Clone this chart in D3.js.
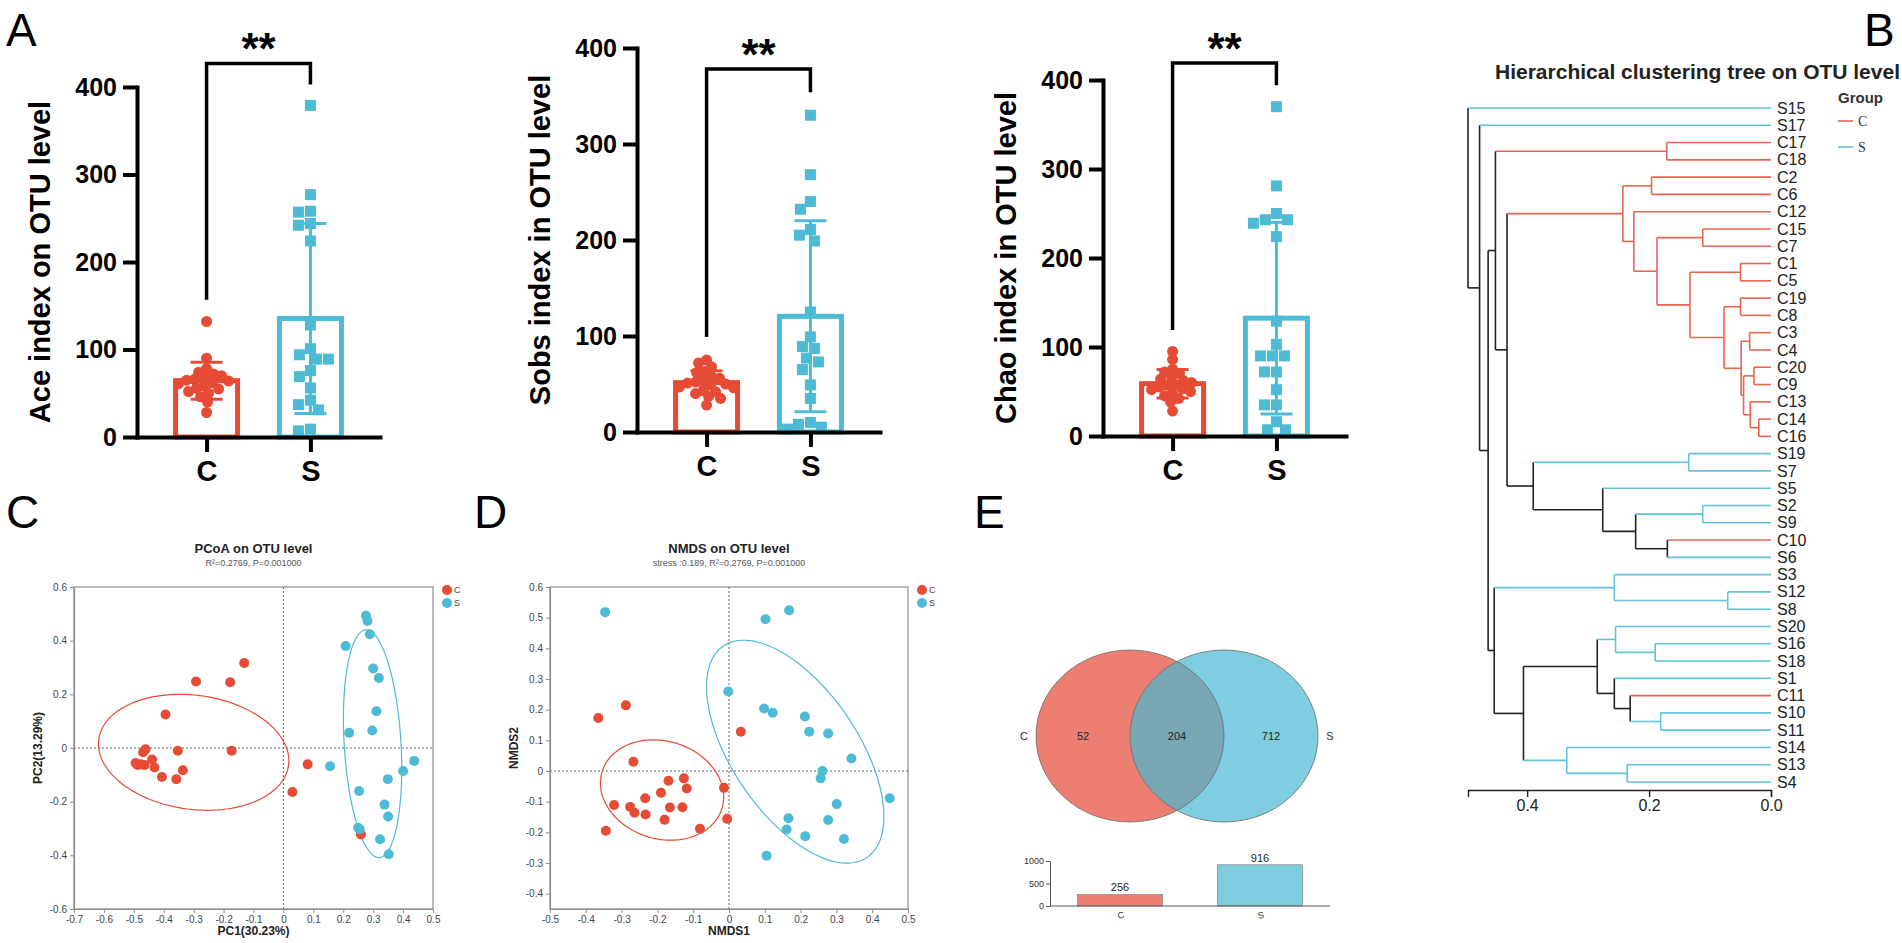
<!DOCTYPE html>
<html>
<head>
<meta charset="utf-8">
<script src="https://cdn.jsdelivr.net/npm/d3@7/dist/d3.min.js"></script>
<style>
  body { margin: 0; background: #fff; }
  svg { display: block; font-family: "Liberation Sans", Arial, Helvetica, sans-serif; }
</style>
</head>
<body>
<svg id="fig" width="1902" height="943"></svg>
<script>
// ---------- values ----------
const groups = ["C", "S"];

// panel A: alpha diversity, one value per sample
const alphaTitles = ["Ace index on OTU level", "Sobs index in OTU level", "Chao index in OTU level"];
const alphaTicks = [0, 100, 200, 300, 400];
const aceC = [132, 90, 78, 74, 72, 70, 68, 66, 65, 64, 62, 61, 58, 56, 55, 52, 50, 46, 40, 28];
const aceS = [379, 277, 258, 257, 244, 242, 224, 128, 101, 94, 89, 89, 76, 69, 56, 42, 37, 31, 9, 7];
const sobsC = [75, 72, 68, 63, 62, 58, 56, 54, 52, 51, 50, 49, 47, 46, 44, 42, 40, 37, 35, 28];
const sobsS = [330, 268, 240, 232, 211, 205, 199, 125, 99, 89, 87, 77, 73, 65, 49, 35, 10, 8, 5, 3];
const chaoC = [95, 86, 75, 72, 70, 66, 64, 62, 60, 58, 57, 55, 53, 52, 50, 48, 45, 42, 38, 28];
const chaoS = [370, 281, 250, 243, 243, 239, 224, 129, 103, 90, 90, 90, 72, 72, 52, 35, 35, 16, 7, 7];
// significance bracket: foot over C, top, foot over S (index units)
const brackets = [[157, 427, 403], [99, 378, 354], [119, 419, 394]];
const sigLabel = "**";

// panel C: PCoA scores
const pcoaC = [[-0.494, -0.056], [-0.487, -0.063], [-0.476, -0.061], [-0.464, -0.063], [-0.469, -0.016],
  [-0.461, -0.005], [-0.439, -0.043], [-0.431, -0.073], [-0.406, -0.108], [-0.394, 0.125], [-0.353, -0.010],
  [-0.358, -0.116], [-0.336, -0.083], [-0.292, 0.248], [-0.178, 0.245], [-0.173, -0.010], [-0.131, 0.317],
  [0.081, -0.061], [0.030, -0.164], [0.259, -0.322]];
const pcoaS = [[0.276, 0.493], [0.281, 0.473], [0.289, 0.424], [0.208, 0.380], [0.300, 0.296], [0.319, 0.261],
  [0.311, 0.137], [0.220, 0.057], [0.297, 0.065], [0.156, -0.068], [0.437, -0.048], [0.400, -0.086],
  [0.349, -0.116], [0.253, -0.160], [0.338, -0.211], [0.350, -0.255], [0.250, -0.297], [0.255, -0.303],
  [0.323, -0.340], [0.352, -0.396]];
// confidence ellipses: centre x, centre y, semi-axis a, semi-axis b, angle (deg)
const pcoaEllipseC = [-0.300, -0.016, 0.321, 0.212, -10];
const pcoaEllipseS = [0.298, 0.016, 0.425, 0.095, 93];
const pcoaXTicks = [-0.7, -0.6, -0.5, -0.4, -0.3, -0.2, -0.1, 0, 0.1, 0.2, 0.3, 0.4, 0.5];
const pcoaYTicks = [-0.6, -0.4, -0.2, 0, 0.2, 0.4, 0.6];

// panel D: NMDS scores
const nmdsC = [[-0.365, 0.173], [-0.288, 0.214], [-0.267, 0.030], [0.033, 0.128], [-0.169, -0.032],
  [-0.126, -0.024], [-0.118, -0.057], [-0.014, -0.055], [-0.234, -0.089], [-0.190, -0.071], [-0.321, -0.111],
  [-0.276, -0.117], [-0.264, -0.136], [-0.233, -0.142], [-0.165, -0.119], [-0.130, -0.118], [-0.180, -0.159],
  [-0.005, -0.156], [-0.081, -0.188], [-0.344, -0.195]];
const nmdsS = [[-0.346, 0.518], [0.102, 0.495], [-0.002, 0.259], [0.098, 0.204], [0.105, -0.276], [0.168, 0.524],
  [0.122, 0.190], [0.212, 0.178], [0.224, 0.128], [0.277, 0.122], [0.342, 0.041], [0.261, 0.000],
  [0.256, -0.024], [0.449, -0.089], [0.301, -0.108], [0.166, -0.154], [0.277, -0.160], [0.161, -0.191],
  [0.213, -0.213], [0.321, -0.222]];
const nmdsEllipseC = [-0.187, -0.062, 0.180, 0.155, -35];
const nmdsEllipseS = [0.185, 0.063, 0.400, 0.183, -62];
const nmdsXTicks = [-0.5, -0.4, -0.3, -0.2, -0.1, 0, 0.1, 0.2, 0.3, 0.4, 0.5];
const nmdsYTicks = [-0.4, -0.3, -0.2, -0.1, 0, 0.1, 0.2, 0.3, 0.4, 0.5, 0.6];

// panel E: Venn (C only, shared, S only) and totals
const vennCounts = [52, 204, 712];
const vennTotals = [256, 916];
const vennTicks = [0, 500, 1000];

// panel B: clustering tree, leaves top to bottom, merges [child, child, height]
const treeLeaves = ["S15", "S17", "C17", "C18", "C2", "C6", "C12", "C15", "C7", "C1", "C5", "C19", "C8", "C3",
  "C4", "C20", "C9", "C13", "C14", "C16", "S19", "S7", "S5", "S2", "S9", "C10", "S6", "S3", "S12", "S8", "S20",
  "S16", "S18", "S1", "C11", "S10", "S11", "S14", "S13", "S4"];
const treeMerges = [
  ["C14", "C16", 0.020], ["C13", 0, 0.034], ["C20", "C9", 0.028], [2, 1, 0.045], ["C3", "C4", 0.035],
  [4, 3, 0.049], ["C19", "C8", 0.050], [6, 5, 0.077], ["C1", "C5", 0.050], [8, 7, 0.133],
  ["C15", "C7", 0.112], [10, 9, 0.187], ["C12", 11, 0.225], ["C2", "C6", 0.196], [13, 12, 0.243],
  ["C17", "C18", 0.171], ["S19", "S7", 0.135], ["C10", "S6", 0.170], ["S2", "S9", 0.112], [18, 17, 0.222],
  ["S5", 19, 0.276], [16, 20, 0.390], [14, 21, 0.433], [15, 22, 0.452], ["S12", "S8", 0.071],
  ["S3", 24, 0.257], ["S16", "S18", 0.190], ["S20", 26, 0.255], ["S10", "S11", 0.181], ["C11", 28, 0.231],
  ["S1", 29, 0.257], [27, 30, 0.285], ["S13", "S4", 0.236], ["S14", 32, 0.335], [31, 33, 0.406],
  [25, 34, 0.454], [23, 35, 0.464], ["S17", 36, 0.478], ["S15", 37, 0.497]];
const treeTicks = [0.4, 0.2, 0.0];

// ---------- drawing ----------
const svg = d3.select("#fig");
const RED = "#E64B35", BLUE = "#4DBBD5";
const colorOf = g => g === "C" ? RED : BLUE;

function letter(t, x, y) {
  svg.append("text").attr("x", x).attr("y", y).attr("font-size", 46).attr("fill", "#000").text(t);
}
letter("A", 6, 46);
letter("B", 1864, 46);
letter("C", 6, 528);
letter("D", 474, 528);
letter("E", 974, 528);

// simple beeswarm: push each point sideways until it stops overlapping
function swarm(vals, y, minDist, maxOff) {
  const pts = vals.map(v => ({ v, py: y(v) })).sort((a, b) => a.py - b.py);
  const placed = [];
  pts.forEach(p => {
    let best = 0, bestD = -1;
    outer:
    for (let k = 0; k <= maxOff; k++) {
      for (const s of (k === 0 ? [0] : [-k, k])) {
        const d = placed.length ? d3.min(placed, q => Math.hypot(q.dx - s, q.py - p.py)) : Infinity;
        if (d >= minDist) { best = s; bestD = d; break outer; }
        if (d > bestD) { bestD = d; best = s; }
      }
    }
    p.dx = best;
    placed.push(p);
  });
  return pts;
}

// panel A
const alphaSets = [[aceC, aceS], [sobsC, sobsS], [chaoC, chaoS]];
const alphaLayout = [{ ax: 137, y0: 437, y4: 87 }, { ax: 637, y0: 432, y4: 48 }, { ax: 1103, y0: 436, y4: 80 }];

alphaLayout.forEach((L, i) => {
  const g = svg.append("g");
  const y = d3.scaleLinear().domain([0, 400]).range([L.y0, L.y4]);
  const x = d3.scalePoint().domain(groups).range([L.ax, L.ax + 243]).padding(0.67);

  alphaSets[i].forEach((vals, k) => {
    const grp = groups[k], cx = x(grp), col = colorOf(grp);
    const m = d3.mean(vals), sd = d3.deviation(vals);
    g.append("rect")
      .attr("x", cx - 31).attr("y", y(m)).attr("width", 62).attr("height", L.y0 - y(m))
      .attr("fill", "none").attr("stroke", col).attr("stroke-width", 5);
    const lo = Math.max(0, m - sd), hi = m + sd;
    g.append("line").attr("x1", cx).attr("x2", cx).attr("y1", y(lo)).attr("y2", y(hi))
      .attr("stroke", col).attr("stroke-width", 3);
    [lo, hi].forEach(v => g.append("line").attr("x1", cx - 16).attr("x2", cx + 16)
      .attr("y1", y(v)).attr("y2", y(v)).attr("stroke", col).attr("stroke-width", 3));

    if (grp === "C") {
      g.selectAll(null).data(swarm(vals, y, 8, 28)).join("circle")
        .attr("cx", d => cx + d.dx).attr("cy", d => d.py).attr("r", 5.5).attr("fill", col);
    } else {
      g.selectAll(null).data(swarm(vals, y, 12, 33)).join("rect")
        .attr("x", d => cx + d.dx - 5.5).attr("y", d => d.py - 5.5)
        .attr("width", 11).attr("height", 11).attr("fill", col);
    }
  });

  const ya = g.append("g").attr("transform", `translate(${L.ax},0)`)
    .call(d3.axisLeft(y).tickValues(alphaTicks).tickSize(14).tickSizeOuter(0).tickPadding(6));
  const xa = g.append("g").attr("transform", `translate(0,${L.y0})`)
    .call(d3.axisBottom(x).tickSize(15).tickSizeOuter(0).tickPadding(8));
  [ya, xa].forEach(a => {
    a.attr("font-family", null).attr("font-size", null);
    a.select(".domain").attr("stroke", "#000").attr("stroke-width", 4).attr("stroke-linecap", "square");
    a.selectAll(".tick line").attr("stroke", "#000").attr("stroke-width", 4);
    a.selectAll(".tick text").attr("fill", "#000").attr("font-weight", "bold");
  });
  ya.selectAll(".tick text").attr("font-size", 25);
  xa.selectAll(".tick text").attr("font-size", 29);

  g.append("text")
    .attr("transform", `translate(${L.ax - 97},${(L.y0 + L.y4) / 2}) rotate(-90)`)
    .attr("dy", "0.35em").attr("text-anchor", "middle")
    .attr("font-size", 29).attr("font-weight", "bold").text(alphaTitles[i]);

  const [b0, b1, b2] = brackets[i];
  g.append("path")
    .attr("d", `M${x("C")},${y(b0)}V${y(b1)}H${x("S")}V${y(b2)}`)
    .attr("fill", "none").attr("stroke", "#000").attr("stroke-width", 3.5);
  g.append("text").attr("x", (x("C") + x("S")) / 2).attr("y", y(b1) + 1)
    .attr("text-anchor", "middle").attr("font-size", 44).attr("font-weight", "bold").text(sigLabel);
});

// panels C and D
function ellipsePts(e) {
  const [cx, cy, a, b, ang] = e, t = ang * Math.PI / 180;
  return d3.range(0, 361, 3).map(k => {
    const u = k * Math.PI / 180;
    return [cx + a * Math.cos(u) * Math.cos(t) - b * Math.sin(u) * Math.sin(t),
            cy + a * Math.cos(u) * Math.sin(t) + b * Math.sin(u) * Math.cos(t)];
  });
}

function ordination(o) {
  const g = svg.append("g");
  const x = d3.scaleLinear().domain(o.xDom).range([o.left, o.right]);
  const y = d3.scaleLinear().domain(o.yDom).range([o.bottom, o.top]);
  const fmt = d => d === 0 ? "0" : d.toFixed(1);

  g.append("rect").attr("x", o.left).attr("y", o.top)
    .attr("width", o.right - o.left).attr("height", o.bottom - o.top)
    .attr("fill", "none").attr("stroke", "#8c8c8c").attr("stroke-width", 1.2);
  g.append("line").attr("x1", x(0)).attr("x2", x(0)).attr("y1", o.top).attr("y2", o.bottom)
    .attr("stroke", "#666").attr("stroke-dasharray", "2,2");
  g.append("line").attr("x1", o.left).attr("x2", o.right).attr("y1", y(0)).attr("y2", y(0))
    .attr("stroke", "#666").attr("stroke-dasharray", "2,2");

  const ax = g.append("g").attr("transform", `translate(0,${o.bottom})`)
    .call(d3.axisBottom(x).tickValues(o.xTicks).tickFormat(fmt).tickSize(4).tickSizeOuter(0).tickPadding(3));
  const ay = g.append("g").attr("transform", `translate(${o.left},0)`)
    .call(d3.axisLeft(y).tickValues(o.yTicks).tickFormat(fmt).tickSize(4).tickSizeOuter(0).tickPadding(3));
  [ax, ay].forEach(a => {
    a.attr("font-family", null).attr("font-size", null);
    a.select(".domain").attr("stroke", "#8c8c8c").attr("stroke-width", 1.2);
    a.selectAll(".tick line").attr("stroke", "#8c8c8c");
    a.selectAll(".tick text").attr("font-size", 10).attr("fill", "#444");
  });

  const line = d3.line().x(p => x(p[0])).y(p => y(p[1])).curve(d3.curveLinearClosed);
  o.ellipses.forEach((e, k) => g.append("path").attr("d", line(ellipsePts(e)))
    .attr("fill", "none").attr("stroke", colorOf(groups[k])).attr("stroke-width", 1.2));

  o.points.forEach((pts, k) => g.selectAll(null).data(pts).join("circle")
    .attr("cx", d => x(d[0])).attr("cy", d => y(d[1])).attr("r", 5).attr("fill", colorOf(groups[k])));

  const mid = (o.left + o.right) / 2;
  g.append("text").attr("x", mid).attr("y", 553).attr("text-anchor", "middle")
    .attr("font-size", 13).attr("font-weight", "bold").attr("fill", "#222").text(o.title);
  g.append("text").attr("x", mid).attr("y", 566).attr("text-anchor", "middle")
    .attr("font-size", 9).attr("fill", "#555").text(o.subtitle);
  g.append("text").attr("x", mid).attr("y", 935).attr("text-anchor", "middle")
    .attr("font-size", 12).attr("font-weight", "bold").attr("fill", "#222").text(o.xLabel);
  g.append("text").attr("transform", `translate(${o.left - 32},${(o.top + o.bottom) / 2}) rotate(-90)`)
    .attr("text-anchor", "middle").attr("font-size", 12).attr("font-weight", "bold").attr("fill", "#222")
    .text(o.yLabel);

  groups.forEach((grp, k) => {
    g.append("circle").attr("cx", o.right + 14).attr("cy", o.top + 3 + k * 13).attr("r", 5).attr("fill", colorOf(grp));
    g.append("text").attr("x", o.right + 21).attr("y", o.top + 3 + k * 13).attr("dy", "0.35em")
      .attr("font-size", 9).attr("fill", "#444").text(grp);
  });
}

ordination({
  left: 74, right: 433, top: 587, bottom: 909, xDom: [-0.7, 0.5], yDom: [-0.6, 0.6],
  xTicks: pcoaXTicks, yTicks: pcoaYTicks, points: [pcoaC, pcoaS], ellipses: [pcoaEllipseC, pcoaEllipseS],
  title: "PCoA on OTU level", subtitle: "R\u00B2=0.2769, P=0.001000", xLabel: "PC1(30.23%)", yLabel: "PC2(13.29%)"
});
ordination({
  left: 550, right: 908, top: 587, bottom: 909, xDom: [-0.5, 0.5], yDom: [-0.45, 0.6],
  xTicks: nmdsXTicks, yTicks: nmdsYTicks, points: [nmdsC, nmdsS], ellipses: [nmdsEllipseC, nmdsEllipseS],
  title: "NMDS on OTU level", subtitle: "stress :0.189, R\u00B2=0.2769, P=0.001000", xLabel: "NMDS1", yLabel: "NMDS2"
});

// panel E: Venn
const venn = svg.append("g");
const RX = 94, RY = 86, VY = 736, VL = 1130, VR = 1224;
svg.append("defs").append("clipPath").attr("id", "clipL")
  .append("ellipse").attr("cx", VL).attr("cy", VY).attr("rx", RX).attr("ry", RY);
venn.append("ellipse").attr("cx", VL).attr("cy", VY).attr("rx", RX).attr("ry", RY).attr("fill", "#EC7F71");
venn.append("ellipse").attr("cx", VR).attr("cy", VY).attr("rx", RX).attr("ry", RY).attr("fill", "#7FCDE0");
venn.append("ellipse").attr("cx", VR).attr("cy", VY).attr("rx", RX).attr("ry", RY)
  .attr("clip-path", "url(#clipL)").attr("fill", "#79A8B4");
[VL, VR].forEach(cx => venn.append("ellipse").attr("cx", cx).attr("cy", VY).attr("rx", RX).attr("ry", RY)
  .attr("fill", "none").attr("stroke", "#6a6a6a").attr("stroke-width", 0.8));
const countX = [VL - RX / 2, (VL + VR) / 2, VR + RX / 2];
vennCounts.forEach((c, k) => venn.append("text").attr("x", countX[k]).attr("y", VY).attr("dy", "0.35em")
  .attr("text-anchor", "middle").attr("font-size", 11).attr("fill", "#222").text(c));
venn.append("text").attr("x", VL - RX - 12).attr("y", VY).attr("dy", "0.35em").attr("text-anchor", "middle")
  .attr("font-size", 11).attr("fill", "#333").text(groups[0]);
venn.append("text").attr("x", VR + RX + 12).attr("y", VY).attr("dy", "0.35em").attr("text-anchor", "middle")
  .attr("font-size", 11).attr("fill", "#333").text(groups[1]);

const bx = d3.scaleBand().domain(groups).range([1050, 1330]).paddingInner(0.393).paddingOuter(0.196);
const by = d3.scaleLinear().domain([0, 1000]).range([906, 861]);
venn.selectAll(null).data(vennTotals).join("rect")
  .attr("x", (d, k) => bx(groups[k])).attr("y", d => by(d))
  .attr("width", bx.bandwidth()).attr("height", d => by(0) - by(d))
  .attr("fill", (d, k) => k === 0 ? "#EC7F71" : "#7FCDE0").attr("stroke", "#777").attr("stroke-width", 0.6);
venn.selectAll(null).data(vennTotals).join("text")
  .attr("x", (d, k) => bx(groups[k]) + bx.bandwidth() / 2).attr("y", d => by(d) - 3)
  .attr("text-anchor", "middle").attr("font-size", 11).attr("fill", "#222").text(d => d);
venn.append("line").attr("x1", 1050).attr("x2", 1330).attr("y1", by(0)).attr("y2", by(0)).attr("stroke", "#555");
const bya = venn.append("g").attr("transform", "translate(1050,0)")
  .call(d3.axisLeft(by).tickValues(vennTicks).tickFormat(d3.format("d")).tickSize(4).tickSizeOuter(0).tickPadding(2));
bya.attr("font-family", null).attr("font-size", null);
bya.select(".domain").attr("stroke", "#555");
bya.selectAll(".tick line").attr("stroke", "#555");
bya.selectAll(".tick text").attr("font-size", 9).attr("fill", "#333");
groups.forEach(grp => venn.append("text")
  .attr("transform", `translate(${bx(grp) + bx.bandwidth() / 2},${by(0) + 6}) rotate(-15)`)
  .attr("dy", "0.71em").attr("text-anchor", "middle").attr("font-size", 9).attr("fill", "#333").text(grp));

// panel B: clustering tree
const tree = svg.append("g");
const TRED = "#E8654F", TBLUE = "#62C3DA";
const leafY = d3.scalePoint().domain(treeLeaves).range([108, 782]);
const xT = d3.scaleLinear().domain([0, d3.max(treeMerges, m => m[2])]).range([1771, 1468]);
const merged = [];
const nodeOf = ref => typeof ref === "number" ? merged[ref]
  : { h: 0, y: leafY(ref), groups: new Set([ref[0]]) };
treeMerges.forEach(([a, b, h]) => {
  const A = nodeOf(a), B = nodeOf(b);
  merged.push({ h, kids: [A, B], y: (A.y + B.y) / 2, groups: new Set([...A.groups, ...B.groups]) });
});
const branchColor = n => n.groups.size > 1 ? "#222" : (n.groups.has("C") ? TRED : TBLUE);
merged.forEach(n => {
  tree.append("line").attr("x1", xT(n.h)).attr("x2", xT(n.h))
    .attr("y1", n.kids[0].y).attr("y2", n.kids[1].y)
    .attr("stroke", branchColor(n)).attr("stroke-width", 1.6);
  n.kids.forEach(c => tree.append("line").attr("x1", xT(n.h)).attr("x2", xT(c.h))
    .attr("y1", c.y).attr("y2", c.y).attr("stroke", branchColor(c)).attr("stroke-width", 1.6));
});
tree.selectAll(null).data(treeLeaves).join("text")
  .attr("x", xT(0) + 6).attr("y", d => leafY(d)).attr("dy", "0.35em")
  .attr("font-size", 16).attr("fill", "#222").text(d => d);
const ta = tree.append("g").attr("transform", "translate(0,790)")
  .call(d3.axisBottom(xT).tickValues(treeTicks).tickFormat(d3.format(".1f")).tickSize(7).tickSizeOuter(7));
ta.attr("font-family", null).attr("font-size", null);
ta.select(".domain").attr("stroke", "#222").attr("stroke-width", 1.4);
ta.selectAll(".tick line").attr("stroke", "#222").attr("stroke-width", 1.4);
ta.selectAll(".tick text").attr("font-size", 16).attr("fill", "#222");

tree.append("text").attr("x", 1900).attr("y", 79).attr("text-anchor", "end")
  .attr("font-size", 21).attr("font-weight", "bold").attr("fill", "#222")
  .text("Hierarchical clustering tree on OTU level");
tree.append("text").attr("x", 1838).attr("y", 103).attr("font-size", 15).attr("font-weight", "bold")
  .attr("fill", "#333").text("Group");
groups.forEach((grp, k) => {
  const yy = 121 + k * 26;
  tree.append("line").attr("x1", 1838).attr("x2", 1853).attr("y1", yy).attr("y2", yy)
    .attr("stroke", grp === "C" ? TRED : TBLUE).attr("stroke-width", 1.6);
  tree.append("text").attr("x", 1858).attr("y", yy).attr("dy", "0.35em")
    .attr("font-family", "'Liberation Serif', 'Times New Roman', serif").attr("font-size", 14)
    .attr("fill", "#333").text(grp);
});
</script>
</body>
</html>
